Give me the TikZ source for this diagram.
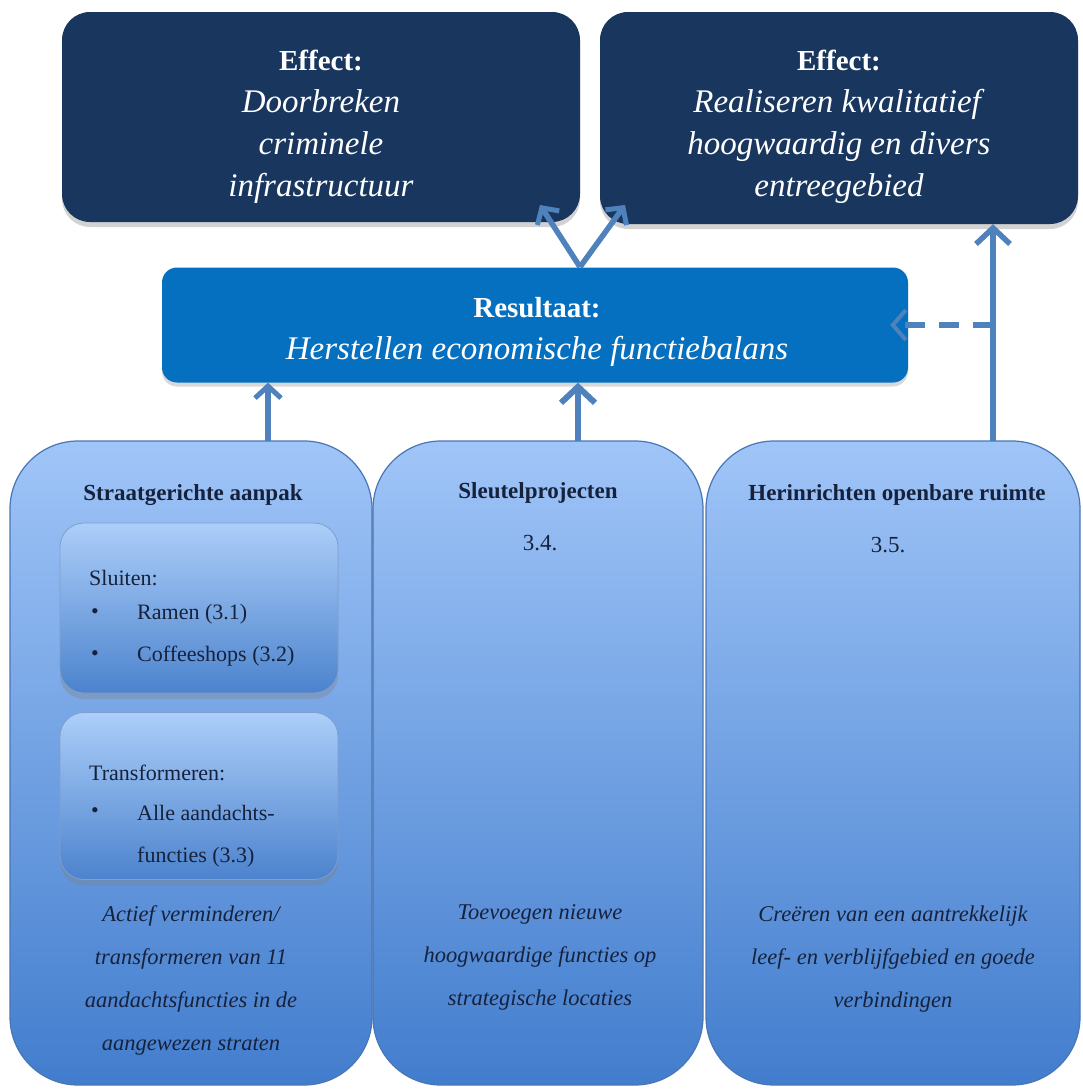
\documentclass[tikz,border=0pt]{standalone}
\usepackage{fontspec}
\setmainfont{Liberation Serif}
\usetikzlibrary{arrows.meta,shadows}
\definecolor{navy}{RGB}{24,54,94}
\definecolor{resblue}{RGB}{5,111,192}
\definecolor{arrblue}{RGB}{79,129,189}
\definecolor{coltop}{RGB}{160,197,248}
\definecolor{colbot}{RGB}{66,125,205}
\definecolor{intop}{RGB}{172,206,249}
\definecolor{inbot}{RGB}{76,131,205}
\definecolor{txt}{RGB}{22,34,60}
\definecolor{colborder}{RGB}{72,118,182}
\tikzset{
  effbox/.style={draw=none, fill=navy, rounded corners=28pt,
    drop shadow={opacity=0.35, shadow xshift=0pt, shadow yshift=-5pt}},
  efftext/.style={text=white, align=center, font=\fontsize{33}{42}\selectfont},
  resbox/.style={draw=none, fill=resblue, rounded corners=15pt,
    drop shadow={opacity=0.3, shadow xshift=0pt, shadow yshift=-4pt}},
  colbox/.style={draw=colborder, line width=1.2pt, top color=coltop, bottom color=colbot, rounded corners=68pt},
  inbox/.style={draw=colborder!70, line width=0.8pt, top color=intop, bottom color=inbot, rounded corners=24pt,
    drop shadow={opacity=0.35, shadow xshift=0pt, shadow yshift=-6pt}},
  hdr/.style={text=txt, font=\fontsize{23}{26}\selectfont\bfseries},
  numtxt/.style={text=txt, font=\fontsize{23}{26}\selectfont},
  itm/.style={text=txt, font=\fontsize{22}{26}\selectfont, inner sep=0pt},
  ital/.style={text=txt, align=center, font=\fontsize{22.5}{43}\selectfont\itshape},
  arr/.style={draw=arrblue, line width=5.5pt, -{Straight Barb[length=16pt,width=34pt,line width=5.5pt]}},
}
\newcommand{\effbold}[1]{{\fontsize{29}{42}\selectfont\bfseries #1}}
\begin{document}
\begin{tikzpicture}[x=1pt,y=-1pt]
\useasboundingbox[fill=white] (0,0) rectangle (1083,1090);

% columns
\node[colbox, minimum width=362pt, minimum height=644pt] (col1) at (191,763) {};
\node[colbox, minimum width=330pt, minimum height=644pt] (col2) at (538,763) {};
\node[colbox, minimum width=374pt, minimum height=644pt] (col3) at (893,763) {};

% top boxes
\node[effbox, minimum width=518pt, minimum height=210pt] (eff1) at (321,117) {};
\node[efftext] (eff1t) at (321,127)
  {\effbold{Effect:}\\\textit{Doorbreken}\\\textit{criminele}\\\textit{infrastructuur}};
\node[effbox, minimum width=478pt, minimum height=212pt] (eff2) at (839,118) {};
\node[efftext] (eff2t) at (839,127)
  {\effbold{Effect:}\\\textit{Realiseren kwalitatief}\\\textit{hoogwaardig en divers}\\\textit{entreegebied}};
\node[resbox, minimum width=746pt, minimum height=115pt] (res) at (535,325) {};
\node[efftext] (rest) at (537,332)
  {\effbold{Resultaat:}\\\textit{Herstellen economische functiebalans}};

% column headers
\node[hdr] (h1) at (193,495) {Straatgerichte aanpak};
\node[hdr] (h2) at (538,493) {Sleutelprojecten};
\node[hdr] (h3) at (897,495) {Herinrichten openbare ruimte};
\node[numtxt] (n2) at (540,543) {3.4.};
\node[numtxt] (n3) at (888,545) {3.5.};

% inner boxes
\node[inbox, minimum width=278pt, minimum height=170pt] (sl) at (199,608) {};
\node[inbox, minimum width=278pt, minimum height=167pt] (tr) at (199,796) {};

\node[itm, anchor=west] (sl0) at (89,578) {Sluiten:};
\node[itm] (slb1) at (95,614) {\textbullet};
\node[itm, anchor=west] (sl1) at (137,614) {Ramen (3.1)};
\node[itm] (slb2) at (95,656) {\textbullet};
\node[itm, anchor=west] (sl2) at (137,656) {Coffeeshops (3.2)};

\node[itm, anchor=west] (tr0) at (89,773) {Transformeren:};
\node[itm] (trb1) at (95,813) {\textbullet};
\node[itm, anchor=west] (tr1) at (137,813) {Alle aandachts-};
\node[itm, anchor=west] (tr2) at (137,857) {functies (3.3)};

% italic descriptions
\node[ital] (d1) at (191,980) {Actief verminderen/\\transformeren van 11\\aandachtsfuncties in de\\aangewezen straten};
\node[ital] (d2) at (540,957) {Toevoegen nieuwe\\hoogwaardige functies op\\strategische locaties};
\node[ital] (d3) at (893,959) {Creëren van een aantrekkelijk\\leef- en verblijfgebied en goede\\verbindingen};

% connectors
\coordinate (a1) at (268,441);
\coordinate (a2) at (578,441);
\coordinate (a3) at (993,441);
\coordinate (rt) at (580,267);
\coordinate (t1) at (540,205);
\coordinate (t2) at (625,205);
\coordinate (dj) at (993,325);

\draw[arr, -{Straight Barb[length=12pt,width=26pt,line width=5pt]}] (a1) -- (a1 |- res.south);
\draw[arr, -{Straight Barb[length=16pt,width=34pt,line width=6pt]}] (a2) -- (a2 |- res.south);
\draw[arr] (a3) -- (a3 |- eff2.south);
\draw[arr, -{Straight Barb[length=12pt,width=26pt,line width=5pt]}] (rt) -- (t1);
\draw[arr, -{Straight Barb[length=12pt,width=26pt,line width=5pt]}] (rt) -- (t2);
\draw[arr, dash pattern=on 20pt off 14pt, -{Straight Barb[length=13pt,width=30pt,line width=4pt]}, shorten >=-18pt] (dj) -- (res.east);
\end{tikzpicture}
\end{document}
